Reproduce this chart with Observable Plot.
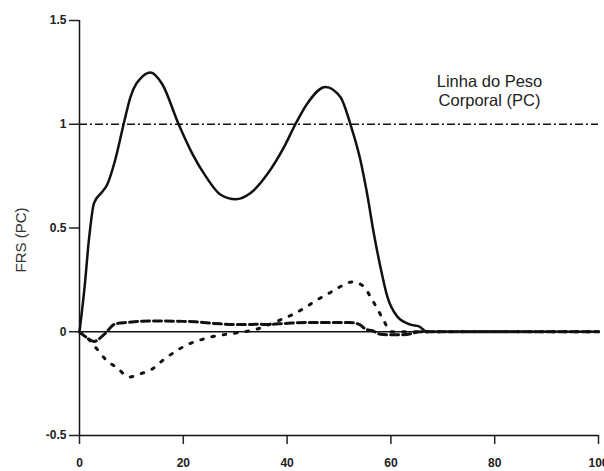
<!DOCTYPE html>
<html><head><meta charset="utf-8">
<script src="https://cdn.jsdelivr.net/npm/d3@7"></script>
<script src="https://cdn.jsdelivr.net/npm/@observablehq/plot@0.6"></script>
<style>body{margin:0;background:#fff;} svg{display:block}</style>
</head><body><div id="chart"></div>
<script>
const xTicks = [0, 20, 40, 60, 80, 100];
const yTicks = [-0.5, 0, 0.5, 1, 1.5];
const bodyWeightLine = [1];
const annotationText = ["Linha do Peso\nCorporal (PC)"];
const yLabel = ["FRS (PC)"];

// Solid: vertical component
const solidX = [0, 1, 1.8, 2.8, 4.4, 5.3, 6.9, 8.5, 9.8, 12.1, 13.7, 15.9, 19.1, 21.7, 24.3, 27.2, 30.1, 32.9, 36.2, 39.4, 41.6, 43.9, 47.4, 50.3, 52.2, 54.1, 55.4, 56.7, 58.0, 59.3, 61.2, 63.8, 65.4, 67, 80, 100];
const solidY = [0, 0.22, 0.44, 0.62, 0.675, 0.707, 0.83, 1.0, 1.13, 1.23, 1.25, 1.195, 1.0, 0.86, 0.75, 0.66, 0.638, 0.667, 0.76, 0.89, 1.0, 1.10, 1.18, 1.13, 1.0, 0.83, 0.667, 0.475, 0.31, 0.17, 0.074, 0.034, 0.026, 0, 0, 0];

// Dotted: antero-posterior component
const dottedX = [0, 1.5, 3.2, 5.1, 7.3, 9.5, 11.8, 14.0, 16.2, 18.5, 20.7, 23.0, 25.2, 27.8, 30.1, 34.2, 36.5, 38.5, 41.0, 43.5, 45.8, 48.1, 50.3, 52.5, 54.8, 56.1, 57.4, 58.7, 60, 70, 100];
const dottedY = [0, -0.03, -0.078, -0.135, -0.175, -0.218, -0.202, -0.18, -0.135, -0.095, -0.063, -0.042, -0.026, -0.014, -0.006, 0.013, 0.034, 0.055, 0.082, 0.117, 0.154, 0.186, 0.218, 0.24, 0.218, 0.166, 0.11, 0.05, 0, 0, 0];

// Dashed: medio-lateral component
const dashedX = [0, 1.5, 2.8, 4.7, 6.9, 9.2, 11.4, 15, 20, 22.3, 24.9, 27.2, 29.8, 32, 34.2, 36.5, 38.4, 40.7, 43.9, 47.8, 52.0, 54.0, 55.1, 56.4, 58, 60, 63, 65.7, 70, 100];
const dashedY = [0, -0.03, -0.047, -0.014, 0.038, 0.045, 0.05, 0.052, 0.05, 0.048, 0.042, 0.038, 0.035, 0.035, 0.036, 0.035, 0.038, 0.042, 0.045, 0.045, 0.045, 0.034, 0.013, 0.005, -0.012, -0.015, -0.013, 0, 0, 0];

const rows = (xs, ys) => xs.map((x, i) => ({x, y: ys[i]}));
const ink = "#111";

const chart = Plot.plot({
  width: 604, height: 471,
  marginLeft: 79, marginRight: 6, marginTop: 20, marginBottom: 36,
  x: {domain: [0, 100]},
  y: {domain: [-0.5, 1.5]},
  style: {fontFamily: "'Liberation Sans', Arial, sans-serif", background: "#fff", color: "#222"},
  marks: [
    Plot.ruleY(bodyWeightLine, {stroke: ink, strokeWidth: 1.5, strokeDasharray: "8,3,2,3"}),
    Plot.ruleY([0], {stroke: ink, strokeWidth: 1.5}),
    Plot.line(rows(dottedX, dottedY), {x: "x", y: "y", curve: "monotone-x", stroke: ink, strokeWidth: 3, strokeDasharray: "2.5,9"}),
    Plot.line(rows(dashedX, dashedY), {x: "x", y: "y", curve: "monotone-x", stroke: ink, strokeWidth: 3, strokeDasharray: "8,4"}),
    Plot.line(rows(solidX, solidY), {x: "x", y: "y", curve: "monotone-x", stroke: ink, strokeWidth: 2.5}),
    Plot.axisX({ticks: xTicks, tickSize: 9, tickPadding: 14, fontSize: 12, fontWeight: "bold", label: null, strokeWidth: 1.5, tickFormat: d => String(d)}),
    Plot.axisY({ticks: yTicks, tickSize: 10, tickPadding: 3, fontSize: 12, fontWeight: "bold", label: null, strokeWidth: 1.5, tickFormat: d => String(d)}),
    Plot.ruleX([0], {stroke: ink, strokeWidth: 1.5}),
    Plot.ruleY([-0.5], {stroke: ink, strokeWidth: 1.5}),
    Plot.text(annotationText, {x: () => 79, y: () => 1.245, lineAnchor: "top", fontSize: 16.5, lineHeight: 1.15, fill: "#222"}),
    Plot.text(yLabel, {frameAnchor: "left", textAnchor: "middle", dx: -58, dy: 12, rotate: -90, fontSize: 15, fill: "#333"})
  ]
});
document.getElementById("chart").append(chart);
</script>
</body></html>
